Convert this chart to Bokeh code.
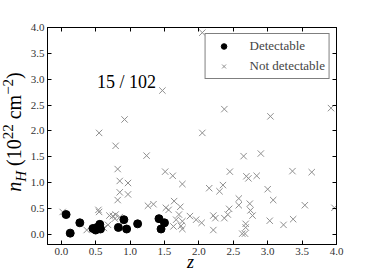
from bokeh.plotting import figure
from bokeh.models import (FixedTicker, PrintfTickFormatter, CustomJSTickFormatter,
                          LinearAxis, Label, Legend, LegendItem, Div)
from bokeh.layouts import row, column
from bokeh.embed import file_html
from bokeh.resources import INLINE

# ---- data ----
det_z = [0.07, 0.13, 0.27, 0.46, 0.50, 0.52, 0.56, 0.57, 0.83, 0.91, 0.95, 1.11, 1.42, 1.45, 1.50]
det_nh = [0.38, 0.02, 0.22, 0.11, 0.08, 0.13, 0.19, 0.10, 0.13, 0.28, 0.10, 0.20, 0.30, 0.10, 0.22]

nd_z = [0.02, 0.37, 0.54, 0.55, 0.55, 0.62, 0.68, 0.70, 0.75, 0.79, 0.78, 0.85, 0.79, 0.82,
        0.85, 0.97, 0.85, 0.97, 0.82, 0.92, 1.24, 1.26, 1.34, 1.47, 1.51, 1.62, 1.76, 1.52,
        1.56, 1.64, 1.73, 1.71, 1.67, 1.63, 1.74, 1.76, 1.87, 1.76, 1.96, 2.04, 2.05, 2.05,
        2.15, 2.30, 2.35, 2.37, 2.21, 2.21, 2.24, 2.37, 2.42, 2.44, 2.45, 2.58, 2.58, 2.63,
        2.67, 2.68, 2.65, 2.69, 2.72, 2.74, 2.75, 2.78, 2.84, 2.90, 3.00, 3.04, 3.03, 3.08,
        3.23, 3.37, 3.36, 3.54, 3.64, 3.92, 3.97, 2.68]
nd_nh = [0.43, 0.08, 0.47, 0.43, 1.96, 0.12, 0.18, 0.36, 0.35, 0.38, 0.30, 0.33, 1.71, 1.26,
         1.03, 0.99, 0.81, 0.77, 0.66, 2.22, 1.52, 0.55, 0.58, 2.78, 1.21, 1.13, 0.97, 0.51,
         0.47, 0.64, 0.53, 0.38, 0.28, 0.15, 0.16, 0.10, 0.35, 0.25, 0.28, 0.22, 1.96, 3.90,
         0.89, 0.83, 0.95, 2.42, 0.08, 0.36, 0.31, 0.31, 0.38, 0.49, 1.21, 0.69, 0.56, 0.01,
         0.01, 0.13, 1.51, 1.12, 1.08, 0.59, 0.46, 0.36, 1.13, 1.56, 0.87, 2.28, 0.26, 0.66,
         0.18, 0.29, 1.22, 0.56, 1.20, 2.44, 0.51, 0.20]

x_ticks = [0.0, 0.5, 1.0, 1.5, 2.0, 2.5, 3.0, 3.5, 4.0]
y_ticks = [0.0, 0.5, 1.0, 1.5, 2.0, 2.5, 3.0, 3.5, 4.0]

legend_labels = ["Detectable", "Not detectable"]
count_text = "15 / 102"

SERIF = "Liberation Serif"
YLAB_W = 26          # width of the strip that holds the rotated y label
PW, PH = 374 - YLAB_W, 260
XLAB_H = 272 - PH

p = figure(width=PW, height=PH, x_range=(-0.2, 4.0), y_range=(-0.2, 4.0),
           output_backend="svg", toolbar_location=None,
           min_border_left=47 - YLAB_W, min_border_right=38, min_border_top=27,
           min_border_bottom=PH - 244, margin=(0, 0, 0, 0))
p.xgrid.visible = False
p.ygrid.visible = False
p.outline_line_color = "black"
p.outline_line_width = 1
p.background_fill_color = "white"
p.border_fill_color = "white"

bottom_axis = p.below[0]
left_axis = p.left[0]
top_axis = LinearAxis()
right_axis = LinearAxis()
p.add_layout(top_axis, "above")
p.add_layout(right_axis, "right")

for ax, ticks in [(bottom_axis, x_ticks), (top_axis, x_ticks), (left_axis, y_ticks), (right_axis, y_ticks)]:
    ax.ticker = FixedTicker(ticks=ticks)
    ax.formatter = PrintfTickFormatter(format="%.1f")
    ax.minor_tick_line_color = None
    ax.major_tick_in = 4
    ax.major_tick_out = 0
    ax.major_tick_line_color = "black"
    ax.axis_line_color = "black"
    ax.major_label_text_font = SERIF
    ax.major_label_text_font_size = "11px"
    ax.major_label_text_color = "#333333"
    ax.major_label_standoff = 3

for ax in (top_axis, right_axis):
    ax.formatter = CustomJSTickFormatter(code="return '';")

r_nd = p.scatter(nd_z, nd_nh, marker="x", size=9, line_color="#8f8f8f", line_width=1)
r_det = p.scatter(det_z, det_nh, marker="circle", size=8, fill_color="black", line_color="black")

legend = Legend(items=[LegendItem(label=legend_labels[0], renderers=[r_det]),
                       LegendItem(label=legend_labels[1], renderers=[r_nd])],
                location="top_right")
legend.margin = 6
legend.padding = 4
legend.spacing = 4
legend.label_text_font = SERIF
legend.label_text_font_size = "13px"
legend.label_standoff = 12
legend.glyph_width = 28
legend.glyph_height = 14
legend.label_height = 14
legend.border_line_color = "black"
legend.border_line_width = 1
legend.background_fill_alpha = 1.0
p.add_layout(legend)

p.add_layout(Label(x=0.52, y=2.76, text=count_text, text_font=SERIF,
                   text_font_size="18px", text_color="black"))

# rotated y-axis label with true subscript / superscripts (HTML text)
ylab_html = (
    '<div style="width:272px;height:26px;transform-origin:0 0;'
    'transform:translate(0px,268px) rotate(-90deg);display:flex;align-items:center;'
    'justify-content:center;white-space:nowrap;font-family:\'Liberation Serif\';'
    'font-size:20px;color:black;line-height:1;padding-top:3px;box-sizing:border-box;">'
    '<span><i>n</i><sub style="font-size:15px;"><i>H</i></sub>&nbsp;(10'
    '<sup style="font-size:15px;">22</sup>&nbsp;cm<sup style="font-size:15px;">&minus;2</sup>)</span>'
    '</div>'
)
ydiv = Div(text=ylab_html, width=YLAB_W, height=272, margin=(0, 0, 0, 0))

xlab_html = (
    '<div style="position:relative;top:-4px;margin-left:161px;font-family:\'Liberation Serif\';'
    'font-size:18px;line-height:12px;color:black;white-space:nowrap;"><i>z</i></div>'
)
xdiv = Div(text=xlab_html, width=PW, height=XLAB_H, margin=(0, 0, 0, 0))

layout = row(ydiv, column(p, xdiv, spacing=0), spacing=0)

open("out.html", "w").write(file_html(layout, INLINE))
